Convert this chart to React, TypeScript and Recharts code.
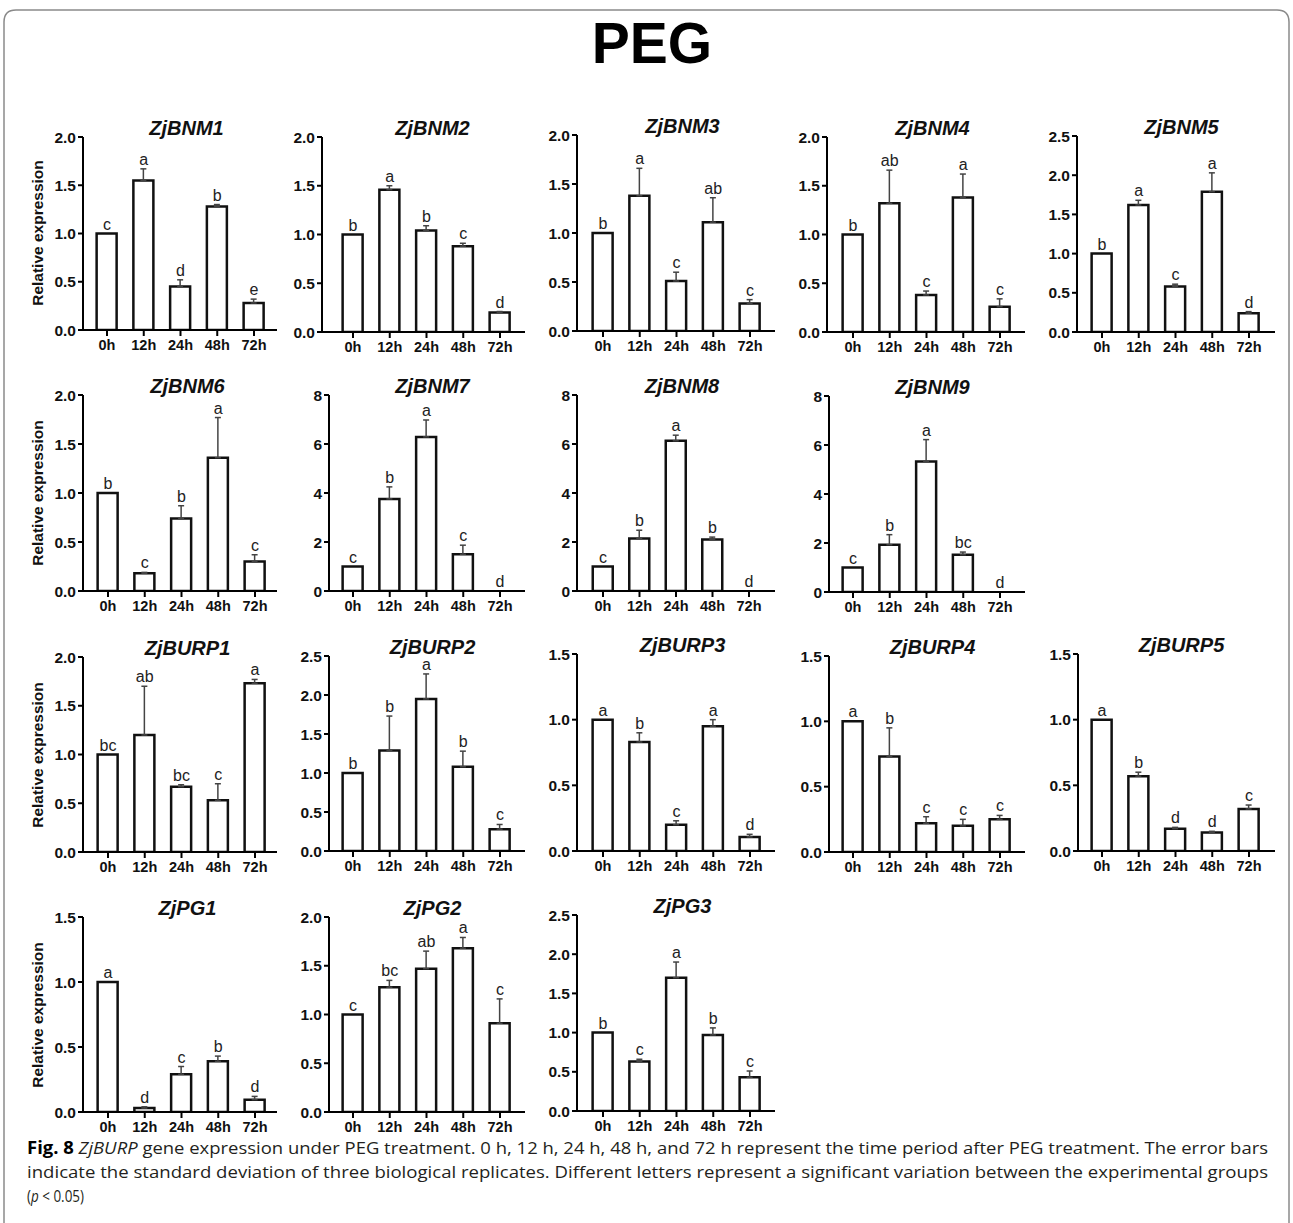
import React from 'react';
import { ComposedChart, Bar, Line, XAxis, YAxis, ErrorBar, LabelList } from 'recharts';

// ---------- data ----------
const times = ['0h', '12h', '24h', '48h', '72h'];

const ticks15 = [0, 0.5, 1.0, 1.5];
const ticks20 = [0, 0.5, 1.0, 1.5, 2.0];
const ticks25 = [0, 0.5, 1.0, 1.5, 2.0, 2.5];
const ticks8 = [0, 2, 4, 6, 8];

const ZjBNM1_mean = [1.0, 1.55, 0.45, 1.28, 0.28];
const ZjBNM1_sd = [0, 0.12, 0.07, 0.02, 0.04];
const ZjBNM1_sig = ['c', 'a', 'd', 'b', 'e'];

const ZjBNM2_mean = [1.0, 1.46, 1.04, 0.88, 0.2];
const ZjBNM2_sd = [0, 0.04, 0.05, 0.03, 0.01];
const ZjBNM2_sig = ['b', 'a', 'b', 'c', 'd'];

const ZjBNM3_mean = [1.0, 1.38, 0.51, 1.11, 0.28];
const ZjBNM3_sd = [0, 0.28, 0.09, 0.25, 0.04];
const ZjBNM3_sig = ['b', 'a', 'c', 'ab', 'c'];

const ZjBNM4_mean = [1.0, 1.32, 0.38, 1.38, 0.26];
const ZjBNM4_sd = [0, 0.34, 0.04, 0.24, 0.08];
const ZjBNM4_sig = ['b', 'ab', 'c', 'a', 'c'];

const ZjBNM5_mean = [1.0, 1.62, 0.58, 1.79, 0.24];
const ZjBNM5_sd = [0, 0.06, 0.03, 0.24, 0.02];
const ZjBNM5_sig = ['b', 'a', 'c', 'a', 'd'];

const ZjBNM6_mean = [1.0, 0.18, 0.74, 1.36, 0.3];
const ZjBNM6_sd = [0, 0.01, 0.13, 0.41, 0.07];
const ZjBNM6_sig = ['b', 'c', 'b', 'a', 'c'];

const ZjBNM7_mean = [1.0, 3.76, 6.29, 1.5, 0];
const ZjBNM7_sd = [0, 0.49, 0.69, 0.37, 0];
const ZjBNM7_sig = ['c', 'b', 'a', 'c', 'd'];

const ZjBNM8_mean = [1.0, 2.14, 6.13, 2.1, 0];
const ZjBNM8_sd = [0, 0.34, 0.23, 0.1, 0];
const ZjBNM8_sig = ['c', 'b', 'a', 'b', 'd'];

const ZjBNM9_mean = [1.0, 1.93, 5.33, 1.52, 0];
const ZjBNM9_sd = [0, 0.41, 0.89, 0.11, 0];
const ZjBNM9_sig = ['c', 'b', 'a', 'bc', 'd'];

const ZjBURP1_mean = [1.0, 1.2, 0.67, 0.53, 1.73];
const ZjBURP1_sd = [0, 0.5, 0.02, 0.17, 0.04];
const ZjBURP1_sig = ['bc', 'ab', 'bc', 'c', 'a'];

const ZjBURP2_mean = [1.0, 1.29, 1.95, 1.08, 0.28];
const ZjBURP2_sd = [0, 0.44, 0.32, 0.2, 0.06];
const ZjBURP2_sig = ['b', 'b', 'a', 'b', 'c'];

const ZjBURP3_mean = [1.0, 0.83, 0.2, 0.95, 0.107];
const ZjBURP3_sd = [0, 0.07, 0.03, 0.05, 0.02];
const ZjBURP3_sig = ['a', 'b', 'c', 'a', 'd'];

const ZjBURP4_mean = [1.0, 0.73, 0.22, 0.2, 0.25];
const ZjBURP4_sd = [0, 0.22, 0.05, 0.05, 0.03];
const ZjBURP4_sig = ['a', 'b', 'c', 'c', 'c'];

const ZjBURP5_mean = [1.0, 0.57, 0.17, 0.14, 0.32];
const ZjBURP5_sd = [0, 0.03, 0.01, 0.01, 0.03];
const ZjBURP5_sig = ['a', 'b', 'd', 'd', 'c'];

const ZjPG1_mean = [1.0, 0.03, 0.29, 0.39, 0.095];
const ZjPG1_sd = [0, 0.01, 0.06, 0.04, 0.025];
const ZjPG1_sig = ['a', 'd', 'c', 'b', 'd'];

const ZjPG2_mean = [1.0, 1.28, 1.47, 1.68, 0.91];
const ZjPG2_sd = [0, 0.07, 0.18, 0.11, 0.25];
const ZjPG2_sig = ['c', 'bc', 'ab', 'a', 'c'];

const ZjPG3_mean = [1.0, 0.63, 1.7, 0.97, 0.43];
const ZjPG3_sd = [0, 0.03, 0.2, 0.09, 0.08];
const ZjPG3_sig = ['b', 'c', 'a', 'b', 'c'];

// ---------- layout (pixel boxes: axisX, axisEnd, firstCenter, lastCenter, topTickY, zeroY) ----------
const boxes: number[][] = [
  [83, 277, 107, 254, 137, 330],
  [322, 525, 353, 500, 137, 332],
  [577, 775, 603, 750, 135, 331],
  [827, 1025, 853, 1000, 137, 332],
  [1077, 1275, 1102, 1249, 136, 332],
  [83, 277, 108, 255, 395, 591],
  [329, 525, 353, 500, 395, 591],
  [577, 775, 603, 749, 395, 591],
  [829, 1025, 853, 1000, 396, 592],
  [83, 277, 108, 255, 657, 852],
  [329, 525, 353, 500, 656, 851],
  [577, 775, 603, 750, 654, 851],
  [829, 1025, 853, 1000, 656, 852],
  [1078, 1275, 1102, 1249, 654, 851],
  [83, 277, 108, 255, 917, 1112],
  [329, 525, 353, 500, 917, 1112],
  [577, 775, 603, 750, 915, 1111],
];

const panels = [
  { name: 'ZjBNM1', mean: ZjBNM1_mean, sd: ZjBNM1_sd, sig: ZjBNM1_sig, ticks: ticks20 },
  { name: 'ZjBNM2', mean: ZjBNM2_mean, sd: ZjBNM2_sd, sig: ZjBNM2_sig, ticks: ticks20 },
  { name: 'ZjBNM3', mean: ZjBNM3_mean, sd: ZjBNM3_sd, sig: ZjBNM3_sig, ticks: ticks20 },
  { name: 'ZjBNM4', mean: ZjBNM4_mean, sd: ZjBNM4_sd, sig: ZjBNM4_sig, ticks: ticks20 },
  { name: 'ZjBNM5', mean: ZjBNM5_mean, sd: ZjBNM5_sd, sig: ZjBNM5_sig, ticks: ticks25 },
  { name: 'ZjBNM6', mean: ZjBNM6_mean, sd: ZjBNM6_sd, sig: ZjBNM6_sig, ticks: ticks20 },
  { name: 'ZjBNM7', mean: ZjBNM7_mean, sd: ZjBNM7_sd, sig: ZjBNM7_sig, ticks: ticks8 },
  { name: 'ZjBNM8', mean: ZjBNM8_mean, sd: ZjBNM8_sd, sig: ZjBNM8_sig, ticks: ticks8 },
  { name: 'ZjBNM9', mean: ZjBNM9_mean, sd: ZjBNM9_sd, sig: ZjBNM9_sig, ticks: ticks8 },
  { name: 'ZjBURP1', mean: ZjBURP1_mean, sd: ZjBURP1_sd, sig: ZjBURP1_sig, ticks: ticks20 },
  { name: 'ZjBURP2', mean: ZjBURP2_mean, sd: ZjBURP2_sd, sig: ZjBURP2_sig, ticks: ticks25 },
  { name: 'ZjBURP3', mean: ZjBURP3_mean, sd: ZjBURP3_sd, sig: ZjBURP3_sig, ticks: ticks15 },
  { name: 'ZjBURP4', mean: ZjBURP4_mean, sd: ZjBURP4_sd, sig: ZjBURP4_sig, ticks: ticks15 },
  { name: 'ZjBURP5', mean: ZjBURP5_mean, sd: ZjBURP5_sd, sig: ZjBURP5_sig, ticks: ticks15 },
  { name: 'ZjPG1', mean: ZjPG1_mean, sd: ZjPG1_sd, sig: ZjPG1_sig, ticks: ticks15 },
  { name: 'ZjPG2', mean: ZjPG2_mean, sd: ZjPG2_sd, sig: ZjPG2_sig, ticks: ticks20 },
  { name: 'ZjPG3', mean: ZjPG3_mean, sd: ZjPG3_sd, sig: ZjPG3_sig, ticks: ticks25 },
];

const yLabelRows = [233, 493, 755, 1015];

const FONT = '"Liberation Sans", Arial, Helvetica, sans-serif';
const CAPTION_FONT = '"Liberation Sans Narrow", "Open Sans", "Noto Sans", sans-serif';

const SigLabel = (props: any) => {
  const { x, y, value } = props;
  if (x == null || y == null) return null;
  return (
    <text x={x} y={y - 4} textAnchor="middle" fontFamily={FONT} fontSize={16} fill="#222">
      {value}
    </text>
  );
};

function Panel({ p, box }: { p: any; box: number[] }) {
  const [ax, aend, fc, lc, ty, zy] = box;
  const s = (lc - fc) / 4;
  const pl = fc - s / 2 - ax;
  const pr = aend - (lc + s / 2);
  const mTop = 12;
  const xH = 30;
  const yW = 60;
  const mR = 4;
  const w = aend - ax + yW + mR;
  const h = zy - ty + mTop + xH;
  const maxT = p.ticks[p.ticks.length - 1];
  const intFmt = maxT >= 8;
  const data = times.map((t, i) => ({
    time: t,
    mean: p.mean[i],
    err: p.sd[i] > 0 ? [0, p.sd[i]] : undefined,
    top: p.mean[i] + p.sd[i],
    sig: p.sig[i],
  }));
  return (
    <div style={{ position: 'absolute', left: ax - yW, top: ty - mTop }}>
      <ComposedChart
        width={w}
        height={h}
        data={data}
        margin={{ top: mTop, right: mR, left: 0, bottom: 0 }}
        barSize={20}
      >
        <XAxis
          dataKey="time"
          height={xH}
          interval={0}
          padding={{ left: pl, right: pr }}
          axisLine={{ stroke: '#000', strokeWidth: 2 }}
          tickLine={{ stroke: '#000', strokeWidth: 2 }}
          tickSize={6}
          tickMargin={4}
          tick={{ fill: '#111', fontSize: 14.5, fontWeight: 700, fontFamily: FONT }}
        />
        <YAxis
          width={yW}
          type="number"
          domain={[0, maxT]}
          ticks={p.ticks}
          allowDataOverflow
          interval={0}
          tickFormatter={(v: number) => (intFmt ? String(v) : v.toFixed(1))}
          axisLine={{ stroke: '#000', strokeWidth: 2 }}
          tickLine={{ stroke: '#000', strokeWidth: 2 }}
          tickSize={5}
          tickMargin={2}
          tick={{ fill: '#111', fontSize: 15.5, fontWeight: 700, fontFamily: FONT }}
        />
        <Bar dataKey="mean" fill="#fff" stroke="#111" strokeWidth={2.5} isAnimationActive={false}>
          <ErrorBar dataKey="err" width={3} stroke="#444" strokeWidth={1.5} direction="y" />
        </Bar>
        <Line
          dataKey="top"
          stroke="none"
          dot={false}
          activeDot={false}
          legendType="none"
          isAnimationActive={false}
        >
          <LabelList dataKey="sig" content={<SigLabel />} />
        </Line>
      </ComposedChart>
    </div>
  );
}

export default function App() {
  return (
    <div style={{ position: 'absolute', left: 0, top: 0, width: 1293, height: 1223, background: '#fff', overflow: 'hidden' }}>
      <svg width={1293} height={1223} style={{ position: 'absolute', left: 0, top: 0 }}>
        <path
          d="M4,1240 L4,22 Q4,10 16,10 L1277,10 Q1289,10 1289,22 L1289,1240"
          fill="none"
          stroke="#8a8a8a"
          strokeWidth={1.5}
        />
        <text x={652} y={63} textAnchor="middle" fontFamily={FONT} fontWeight={700} fontSize={57} fill="#000">
          PEG
        </text>
        {panels.map((p, i) => {
          const b = boxes[i];
          const s = (b[3] - b[2]) / 4;
          const cx = b[2] + 2 * s + 6;
          return (
            <text
              key={p.name}
              x={cx}
              y={b[4] - 2}
              textAnchor="middle"
              fontFamily={FONT}
              fontWeight={700}
              fontStyle="italic"
              fontSize={20}
              fill="#111"
            >
              {p.name}
            </text>
          );
        })}
        {yLabelRows.map((cy, i) => (
          <text
            key={i}
            x={0}
            y={0}
            transform={`translate(37,${cy}) rotate(-90)`}
            textAnchor="middle"
            dominantBaseline="central"
            fontFamily={FONT}
            fontWeight={700}
            fontSize={15.5}
            fill="#111"
          >
            Relative expression
          </text>
        ))}
        <g fontFamily={CAPTION_FONT} fontSize={17} fill="#231f20">
          <text x={27} y={1154} textLength={1241} lengthAdjust="spacingAndGlyphs">
            <tspan fontWeight={700} fill="#000">Fig. 8</tspan>
            <tspan>  </tspan>
            <tspan fontStyle="italic">ZjBURP</tspan>
            <tspan> gene expression under PEG treatment. 0 h, 12 h, 24 h, 48 h, and 72 h represent the time period after PEG treatment. The error bars</tspan>
          </text>
          <text x={27} y={1178} textLength={1241} lengthAdjust="spacingAndGlyphs">
            indicate the standard deviation of three biological replicates. Different letters represent a significant variation between the experimental groups
          </text>
          <text x={27} y={1202} textLength={57} lengthAdjust="spacingAndGlyphs">
            (<tspan fontStyle="italic">p</tspan> &lt; 0.05)
          </text>
        </g>
      </svg>
      {panels.map((p, i) => (
        <Panel key={p.name} p={p} box={boxes[i]} />
      ))}
    </div>
  );
}
